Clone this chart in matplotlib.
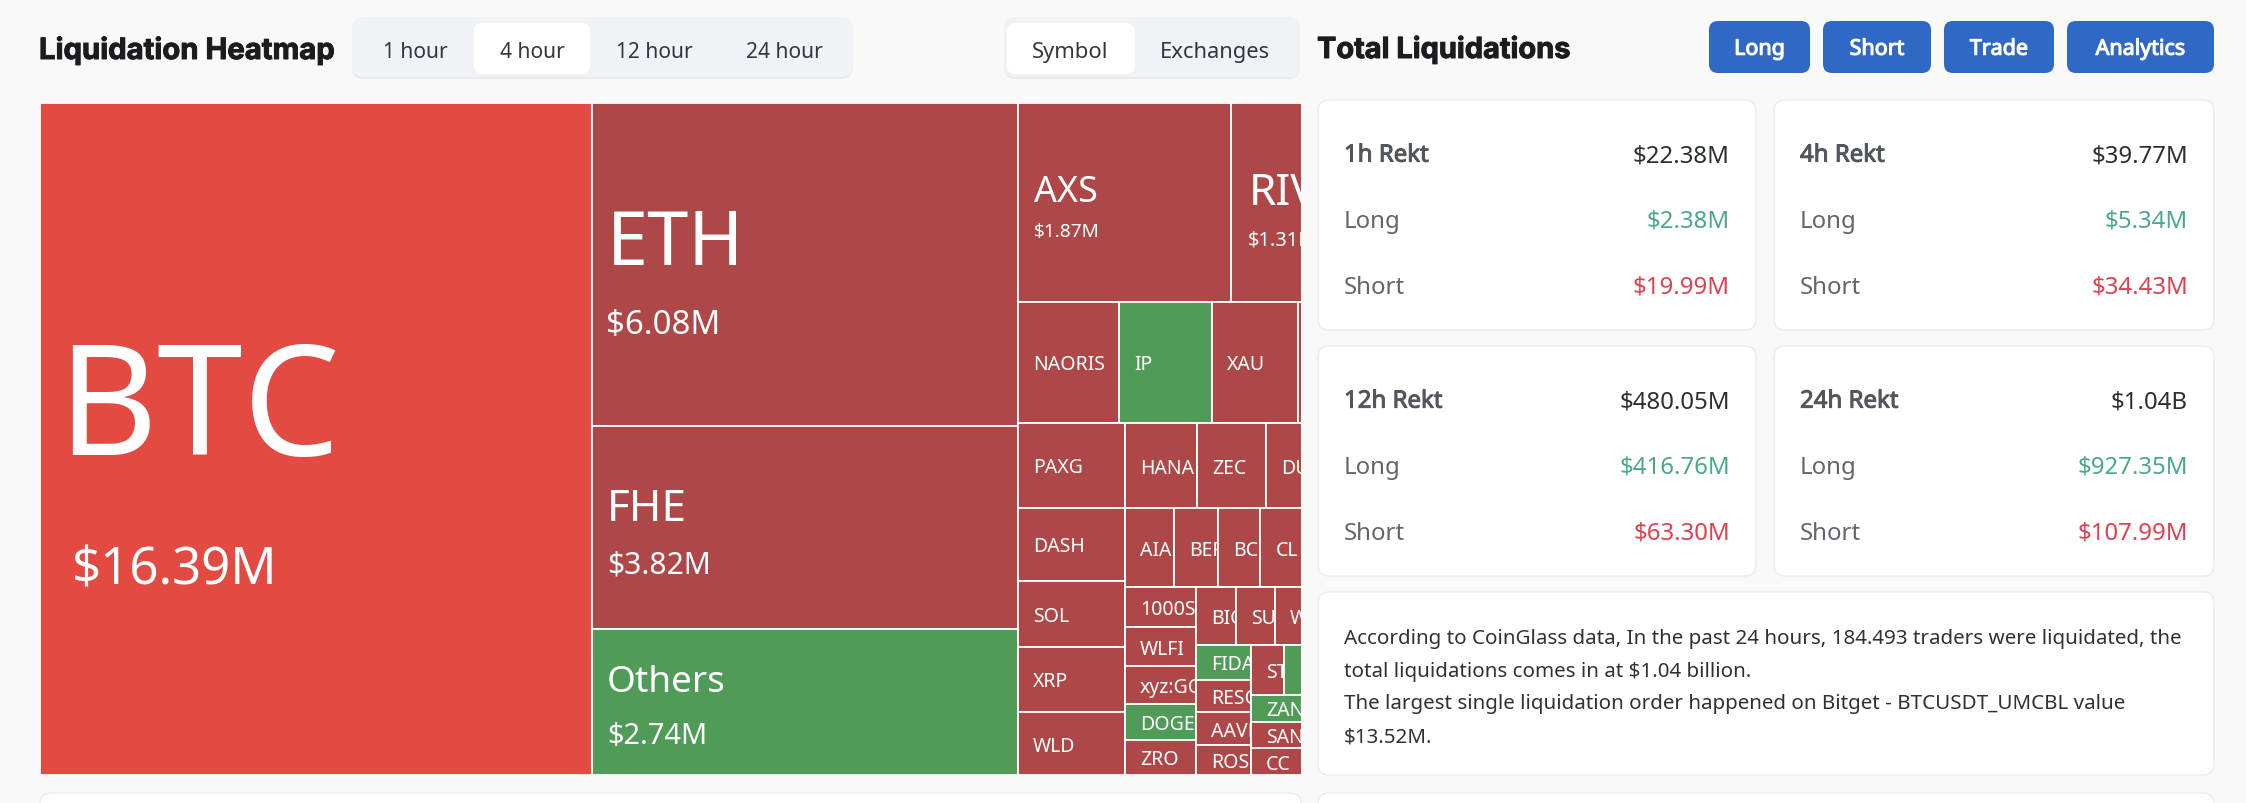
import matplotlib
matplotlib.use('Agg')
import matplotlib.pyplot as plt
import matplotlib.patheffects as pe
from matplotlib.patches import FancyBboxPatch, Rectangle

plt.rcParams['font.family'] = ['Noto Sans', 'DejaVu Sans']

# treemap values in $M, names starting with _ have no visible label
btc_names = ['BTC']
btc_values = [16.39]
big_names = ['ETH', 'FHE', 'Others']
big_values = [6.08, 3.82, 2.74]
row1_names = ['AXS', 'RIV']
row1_values = [1.87, 1.31]
row2_names = ['NAORIS', 'IP', 'XAU', '_a']
row2_values = [0.54, 0.495, 0.46, 0.44]
col_names = ['PAXG', 'DASH', 'SOL', 'XRP', 'WLD']
col_values = [0.403, 0.343, 0.313, 0.308, 0.298]
row3_names = ['HANA', 'ZEC', 'DU', '_b']
row3_values = [0.272, 0.26, 0.233, 0.198]
row4_names = ['AIA', 'BER', 'BC', 'CL', '_c', '_c2']
row4_values = [0.169, 0.152, 0.148, 0.145, 0.136, 0.134]
stack1_names = ['1000S', 'WLFI', 'xyz:GO', 'DOGE', 'ZRO']
stack1_values = [0.126, 0.123, 0.118, 0.113, 0.110]
row5_names = ['BIO', 'SU', 'W', '_d', '_e']
row5_values = [0.103, 0.100, 0.098, 0.090, 0.082]
stack2_names = ['FIDA', 'RESO', 'AAVE', 'ROS']
stack2_values = [0.084, 0.080, 0.078, 0.074]
row6_names = ['ST', '_green', '_f', '_g']
row6_values = [0.073, 0.072, 0.070, 0.070]
stack3_names = ['ZAN', 'SAN', 'CC']
stack3_values = [0.070, 0.069, 0.069]
rest_names = ['_h']
rest_values = [0.248]

green_tiles = ['Others', 'IP', 'DOGE', 'FIDA', '_green', 'ZAN']
bright_tiles = ['BTC']

# header and panel text
range_tabs = ['1 hour', '4 hour', '12 hour', '24 hour']
view_tabs = ['Symbol', 'Exchanges']
buttons = ['Long', 'Short', 'Trade', 'Analytics']
card_titles = ['1h Rekt', '4h Rekt', '12h Rekt', '24h Rekt']
card_totals = ['$22.38M', '$39.77M', '$480.05M', '$1.04B']
card_longs = ['$2.38M', '$5.34M', '$416.76M', '$927.35M']
card_shorts = ['$19.99M', '$34.43M', '$63.30M', '$107.99M']
summary_lines = [
    'According to CoinGlass data, In the past 24 hours, 184.493 traders were liquidated, the',
    'total liquidations comes in at $1.04 billion.',
    'The largest single liquidation order happened on Bitget - BTCUSDT_UMCBL value',
    '$13.52M.',
]

# colours
BG = '#F9F9FA'
RED = '#AE4848'
BRIGHT = '#E34A42'
GREEN = '#519B58'
BLUE = '#3068C5'
INK = '#1B1C1F'


def px(size):
    return size * 0.72


def heavy(color, width=0.7):
    return [pe.withStroke(linewidth=width, foreground=color)]


fig = plt.figure(figsize=(22.46, 8.04), dpi=100, facecolor=BG)

# page axes in image pixels
ui = fig.add_axes([0, 0, 1, 1])
ui.set_xlim(0, 2246)
ui.set_ylim(804, 0)
ui.axis('off')


def box(x0, y0, x1, y1, color, edge='none', r=9, lw=1.0):
    ui.add_patch(FancyBboxPatch((x0, y0), x1 - x0, y1 - y0,
                                boxstyle=f'round,pad=0,rounding_size={r}',
                                facecolor=color, edgecolor=edge, linewidth=lw))


def label(x, y, s, size, color=INK, ha='left', **kw):
    # y is the middle of the capitals
    ui.text(x, y + 0.36 * size, s, fontsize=px(size), color=color, ha=ha, va='baseline', **kw)


# header
ui.text(39, 60, 'Liquidation Heatmap', fontsize=px(29.3), fontweight='bold', family='Inter',
        color=INK, va='baseline', path_effects=heavy(INK))
ui.text(1317, 59, 'Total Liquidations', fontsize=px(29), fontweight='bold', family='Inter',
        color=INK, va='baseline', path_effects=heavy(INK))

box(352, 19, 853, 80, '#E9EAED', r=12)
box(352, 18, 853, 78, '#F1F2F5', r=12)
box(474, 24, 590, 75, 'white', r=9)
for name, xc in zip(range_tabs, [415, 532, 654, 784]):
    label(xc, 50, name, 21, color='#33363B', ha='center')

box(1004, 19, 1300, 80, '#E9EAED', r=12)
box(1004, 18, 1300, 78, '#F1F2F5', r=12)
box(1007, 24, 1135, 75, 'white', r=9)
for name, xc in zip(view_tabs, [1070, 1215]):
    label(xc, 50, name, 22, color='#33363B', ha='center')

button_edges = [(1709, 1810), (1823, 1931), (1944, 2054), (2067, 2214)]
for name, (x0, x1) in zip(buttons, button_edges):
    box(x0, 22, x1, 74, BLUE, r=9)
    label((x0 + x1) / 2, 48, name, 21.5, color='white', ha='center', path_effects=heavy('white', 0.8))

# stat cards
card_boxes = [(1318, 101, 1756, 331), (1774, 101, 2214, 331),
              (1318, 347, 1756, 577), (1774, 347, 2214, 577)]
for i, (x0, y0, x1, y1) in enumerate(card_boxes):
    box(x0, y0, x1, y1, 'white', edge='#EBECEE', r=11)
    lx, rx = x0 + 26, x1 - 26
    label(lx, y0 + 53, card_titles[i], 24, color='#52565C', path_effects=heavy('#52565C', 0.7))
    label(rx, y0 + 53, card_totals[i], 24, color='#2B2E33', ha='right')
    label(lx, y0 + 118, 'Long', 24, color='#62666C')
    label(rx, y0 + 118, card_longs[i], 24, color='#4AA88C', ha='right')
    label(lx, y0 + 184, 'Short', 24, color='#62666C')
    label(rx, y0 + 184, card_shorts[i], 24, color='#E0404F', ha='right')

# summary card
box(1318, 593, 2214, 776, 'white', edge='#EBECEE', r=11)
for s, y in zip(summary_lines, [637, 670, 702, 735]):
    label(1344, y, s, 20.6, color='#2E3136')

# tops of the next cards, cut by the image edge
box(40, 794, 1301, 840, 'white', edge='#EBECEE', r=11)
box(1318, 794, 2214, 840, 'white', edge='#EBECEE', r=11)

# treemap axes: x in $M of a full height column, y from 0 to 1, so area is value
tree = fig.add_axes([40 / 2246, 28 / 804, 1261 / 2246, 672 / 804])
tree.set_xlim(0, 37.43)
tree.set_ylim(1, 0)
tree.axis('off')


def group(direction, *parts):
    return (direction, list(parts))


def leaves(names, values):
    return list(zip(names, values))


def total(node):
    if isinstance(node[1], list):
        return sum(total(child) for child in node[1])
    return node[1]


layout = group(
    'x',
    *leaves(btc_names, btc_values),
    group('y', *leaves(big_names, big_values)),
    group(
        'y',
        group('x', *leaves(row1_names, row1_values)),
        group('x', *leaves(row2_names, row2_values)),
        group(
            'x',
            group('y', *leaves(col_names, col_values)),
            group(
                'y',
                group('x', *leaves(row3_names, row3_values)),
                group('x', *leaves(row4_names, row4_values)),
                group(
                    'x',
                    group('y', *leaves(stack1_names, stack1_values)),
                    group(
                        'y',
                        group('x', *leaves(row5_names, row5_values)),
                        group(
                            'x',
                            group('y', *leaves(stack2_names, stack2_values)),
                            group(
                                'y',
                                group('x', *leaves(row6_names, row6_values)),
                                group(
                                    'x',
                                    group('y', *leaves(stack3_names, stack3_values)),
                                    *leaves(rest_names, rest_values),
                                ),
                            ),
                        ),
                    ),
                ),
            ),
        ),
    ),
)

# sizes and offsets in pixels of the tiles with a large label:
# name size, value size, name dy, value dy, left pad, value left pad
big_labels = {
    'BTC': (154, 51, -40, 126, 17, 32),
    'ETH': (74, 33, -27, 56, 15, 14),
    'FHE': (44, 30, -24, 34, 15, 15),
    'Others': (37, 29, -24, 30, 15, 15),
    'AXS': (36, 19, -14, 27, 16, 16),
    'RIV': (44, 20, -14, 35, 18, 17),
}


def tile_text(s, x0, x1, y0, y1, size, dy, pad):
    right = min(x1, tree.get_xlim()[1])
    clip = Rectangle((x0, y0), right - x0, y1 - y0, transform=tree.transData)
    t = tree.annotate(s, xy=(x0, (y0 + y1) / 2), xycoords='data', xytext=(pad, -dy - 0.36 * size),
                      textcoords='offset pixels', fontsize=px(size), color='white',
                      ha='left', va='baseline')
    t.set_clip_on(True)
    t.set_clip_path(clip)


def draw(node, x0, y0, x1, y1):
    name, content = node
    if isinstance(content, list):
        sum_all = total(node)
        pos = x0 if name == 'x' else y0
        for child in content:
            part = total(child) / sum_all
            if name == 'x':
                step = (x1 - x0) * part
                draw(child, pos, y0, pos + step, y1)
            else:
                step = (y1 - y0) * part
                draw(child, x0, pos, x1, pos + step)
            pos += step
        return

    color = RED
    if name in green_tiles:
        color = GREEN
    elif name in bright_tiles:
        color = BRIGHT
    tree.add_patch(Rectangle((x0, y0), x1 - x0, y1 - y0, facecolor=color,
                             edgecolor='white', linewidth=1.3))
    if name.startswith('_'):
        return
    if name in big_labels:
        size, vsize, dy, vdy, pad, vpad = big_labels[name]
        tile_text(name, x0, x1, y0, y1, size, dy, pad)
        tile_text(f'${content:.2f}M', x0, x1, y0, y1, vsize, vdy, vpad)
    else:
        tile_text(name, x0, x1, y0, y1, 19.5, 0, 15)


draw(layout, 0, 0, total(layout), 1)

fig.savefig('out.png', dpi=100, facecolor=BG)
